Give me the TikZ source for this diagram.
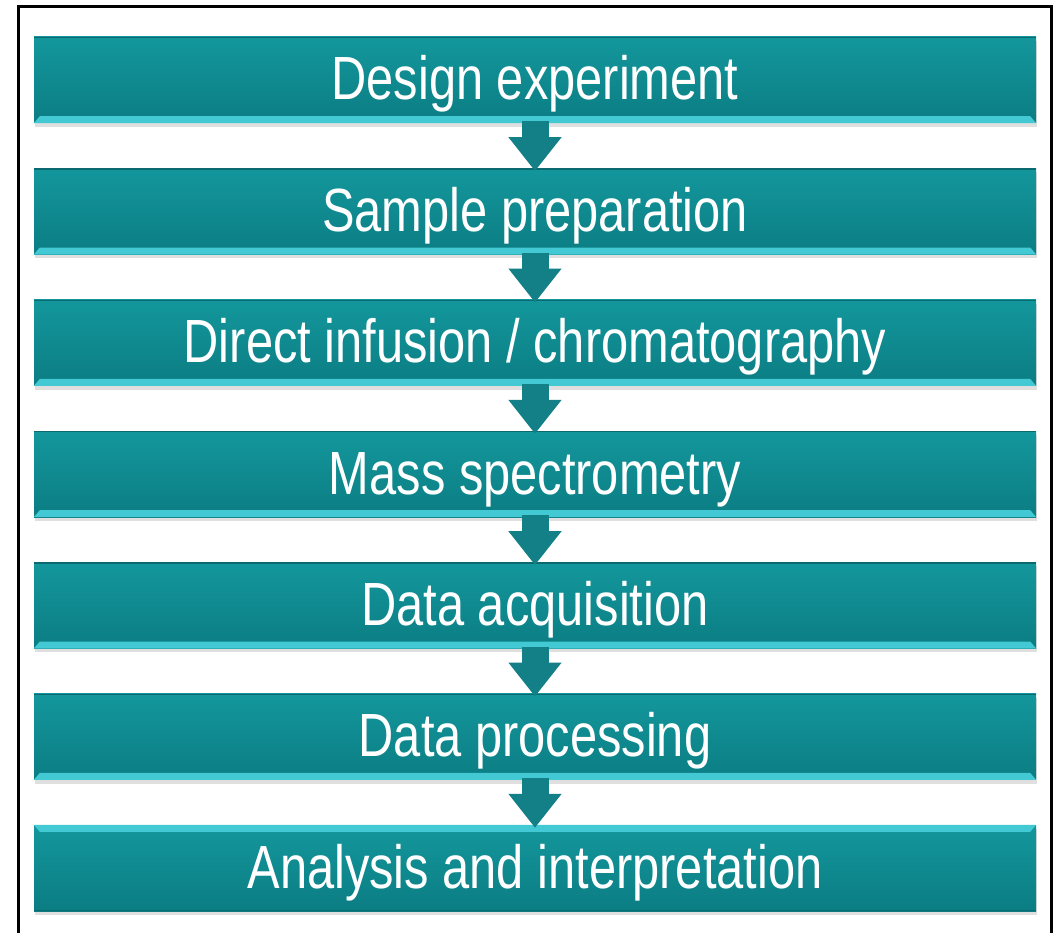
\documentclass[tikz,border=0pt]{standalone}
\usepackage{fontspec}
\newfontfamily\lblfont[FakeStretch=0.8]{Liberation Sans}
\usetikzlibrary{arrows.meta,shadows,calc}
\definecolor{tealtop}{HTML}{13979C}
\definecolor{tealbot}{HTML}{0B7D83}
\definecolor{bevel}{HTML}{42C9D3}
\definecolor{edgedark}{HTML}{0A6A70}
\definecolor{arrowteal}{HTML}{137F86}
\begin{document}
\begin{tikzpicture}[x=1pt,y=-1pt,
  stepbox/.style={minimum width=1002pt, minimum height=86pt, inner sep=0pt,
    text height=49pt, text depth=9pt,
    top color=tealtop, bottom color=tealbot, draw=none,
    drop shadow={opacity=0.25, shadow xshift=1pt, shadow yshift=-4pt},
    text=white, font=\lblfont\fontsize{61}{70}\selectfont},
  flowarrow/.style={draw=arrowteal, line width=27pt,
    -{Triangle[length=34pt 0 0, width=51pt 0 0]}, shorten <=-2pt},
  frameline/.style={draw=black, line width=3pt}]
\useasboundingbox (0,0) rectangle (1059,933);
\fill[white] (0,0) rectangle (1059,933);
% frame
\draw[frameline] (18.5,933) -- (18.5,6.5) -- (1051.5,6.5) -- (1051.5,933);
% boxes
\node[stepbox] (b1) at (535,80)     {Design experiment};
\node[stepbox] (b2) at (535,211.3)  {Sample preparation};
\node[stepbox] (b3) at (535,342.7)  {Direct infusion / chromatography};
\node[stepbox] (b4) at (535,474)    {Mass spectrometry};
\node[stepbox] (b5) at (535,605.3)  {Data acquisition};
\node[stepbox] (b6) at (535,736.7)  {Data processing};
\node[stepbox] (b7) at (535,868)    {Analysis and interpretation};
% bevels
\foreach \b in {b1,b2,b3,b4,b5,b6}{
  \fill[bevel] (\b.south west) -- ($(\b.south west)+(6,-7)$) -- ($(\b.south east)+(-6,-7)$) -- (\b.south east) -- cycle;
  \draw[edgedark, line width=1.5pt] ($(\b.north west)+(0,0.75)$) -- ($(\b.north east)+(0,0.75)$);
}
\fill[bevel] (b7.north west) -- ($(b7.north west)+(6,7)$) -- ($(b7.north east)+(-6,7)$) -- (b7.north east) -- cycle;
\draw[edgedark, line width=1.5pt] ($(b7.south west)+(0,-0.75)$) -- ($(b7.south east)+(0,-0.75)$);
% arrows
\draw[flowarrow] (b1.south) -- ([yshift=-3pt]b2.north);
\draw[flowarrow] (b2.south) -- ([yshift=-3pt]b3.north);
\draw[flowarrow] (b3.south) -- ([yshift=-3pt]b4.north);
\draw[flowarrow] (b4.south) -- ([yshift=-3pt]b5.north);
\draw[flowarrow] (b5.south) -- ([yshift=-3pt]b6.north);
\draw[flowarrow] (b6.south) -- ([yshift=-3pt]b7.north);
\end{tikzpicture}
\end{document}
